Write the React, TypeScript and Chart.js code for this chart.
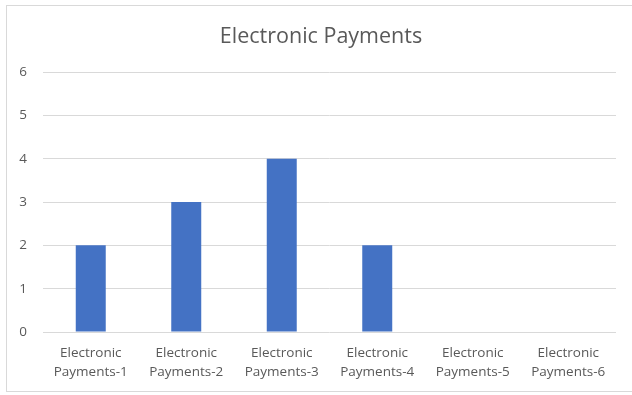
import React, { useEffect, useRef } from "react";
import { Chart, registerables } from "chart.js";

Chart.register(...registerables);

const categories: string[][] = [
  ["Electronic", "Payments-1"],
  ["Electronic", "Payments-2"],
  ["Electronic", "Payments-3"],
  ["Electronic", "Payments-4"],
  ["Electronic", "Payments-5"],
  ["Electronic", "Payments-6"],
];
const seriesValues: number[] = [2, 3, 4, 2, 0, 0];
const yTicks: number[] = [0, 1, 2, 3, 4, 5, 6];
const chartTitle = "Electronic Payments";

const FONT = "'Open Sans', 'Noto Sans', sans-serif";
const TEXT = "#595959";
const GRID = "#D9D9D9";
const BAR = "#4472C4";

const framePlugin = {
  id: "frame",
  beforeDraw(chart: any) {
    const ctx = chart.ctx;
    ctx.save();
    ctx.fillStyle = "#ffffff";
    ctx.fillRect(0, 0, chart.width, chart.height);
    ctx.strokeStyle = GRID;
    ctx.lineWidth = 1;
    ctx.strokeRect(6.5, 5.5, chart.width, 386);
    ctx.restore();
  },
  afterDraw(chart: any) {
    const ctx = chart.ctx;
    ctx.save();
    ctx.fillStyle = TEXT;
    ctx.font = `21.5px ${FONT}`;
    ctx.textAlign = "center";
    ctx.textBaseline = "middle";
    ctx.fillText(chartTitle, 321, 37);
    ctx.restore();
  },
};

export default function App() {
  const ref = useRef<HTMLCanvasElement | null>(null);

  useEffect(() => {
    if (!ref.current) return;
    const chart = new Chart(ref.current, {
      type: "bar",
      data: {
        labels: categories,
        datasets: [
          {
            label: "Series 1",
            data: seriesValues,
            backgroundColor: BAR,
            borderWidth: 0,
            barPercentage: 0.314,
            categoryPercentage: 1,
          },
        ],
      },
      options: {
        animation: false,
        responsive: false,
        maintainAspectRatio: false,
        layout: { padding: { left: 0, right: 16, top: 72, bottom: 0 } },
        plugins: {
          legend: { display: false },
          tooltip: { enabled: false },
          title: { display: false },
        },
        scales: {
          x: {
            grid: { display: false, drawTicks: false },
            border: { display: false },
            ticks: {
              color: TEXT,
              font: { family: FONT, size: 13.5, lineHeight: 1.4 },
              padding: 12,
              maxRotation: 0,
              autoSkip: false,
            },
            afterFit(scale: any) {
              scale.height = 63;
            },
          },
          y: {
            min: yTicks[0],
            max: yTicks[yTicks.length - 1],
            grid: { color: GRID, drawTicks: false, lineWidth: 1 },
            border: { display: false },
            ticks: {
              stepSize: 1,
              color: TEXT,
              font: { family: FONT, size: 13.5 },
              padding: 16,
            },
            afterFit(scale: any) {
              scale.width = 43;
            },
          },
        },
      },
      plugins: [framePlugin],
    });
    return () => chart.destroy();
  }, []);

  return (
    <div style={{ position: "absolute", left: 0, top: 0, width: 632, height: 395 }}>
      <canvas ref={ref} width={632} height={395} />
    </div>
  );
}
